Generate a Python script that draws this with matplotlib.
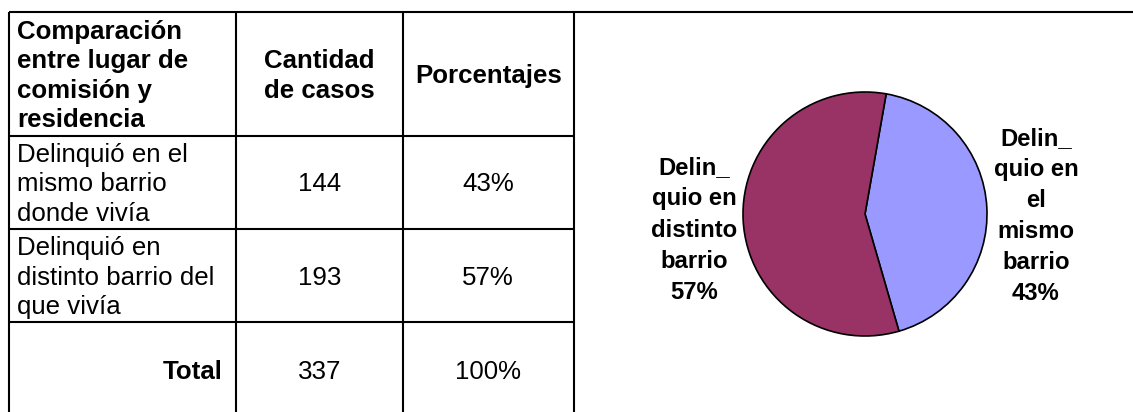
import matplotlib
matplotlib.use("Agg")
import matplotlib.pyplot as plt

# ---------------- data ----------------
header_labels = ["Comparación\nentre lugar de\ncomisión y\nresidencia",
                 "Cantidad\nde casos", "Porcentajes"]
row_labels = ["Delinquió en el\nmismo barrio\ndonde vivía",
              "Delinquió en\ndistinto barrio del\nque vivía"]
case_counts = [144, 193]
percentages = ["43%", "57%"]
total_label = "Total"
total_count = 337
total_pct = "100%"

pie_labels = ["Delin_\nquio en\nel\nmismo\nbarrio\n43%",
              "Delin_\nquio en\ndistinto\nbarrio\n57%"]
pie_values = [144, 193]
pie_colors = ["#9999FF", "#993366"]

# ---------------- figure ----------------
W, H = 1133, 412
fig = plt.figure(figsize=(W / 100, H / 100), dpi=100)
fig.patch.set_facecolor("white")
ax = fig.add_axes([0, 0, 1, 1])
ax.set_xlim(0, W)
ax.set_ylim(H, 0)
ax.axis("off")

FONT = "Liberation Sans"
TSIZE = 18.6
LW = 1.5

# table grid
x_cols = [9, 235.5, 403, 573.5]
y_rows = [12, 135.5, 229, 322, 418]
ax.plot([x_cols[0], W], [y_rows[0]] * 2, color="black", lw=LW, solid_capstyle="butt")
for y in y_rows[1:4]:
    ax.plot([x_cols[0], x_cols[-1]], [y, y], color="black", lw=LW, solid_capstyle="butt")
for x in x_cols:
    ax.plot([x, x], [y_rows[0], H], color="black", lw=LW, solid_capstyle="butt")


def draw_lines(x, yc, text, ha="left", weight="normal", size=TSIZE, spacing=29.5, cap=None):
    lines = text.split("\n")
    px = size / 72 * 100
    if cap is None:
        cap = 0.716 * px
    n = len(lines)
    first = yc - (n - 1) * spacing / 2 + cap / 2
    for i, line in enumerate(lines):
        ax.text(x, first + i * spacing, line, ha=ha, va="baseline",
                fontsize=size, fontweight=weight, family=FONT, color="black")


def col_center(i):
    return (x_cols[i] + x_cols[i + 1]) / 2


def row_center(j):
    return (y_rows[j] + y_rows[j + 1]) / 2


# header
draw_lines(17, row_center(0), header_labels[0], weight="bold")
draw_lines(col_center(1), row_center(0), header_labels[1], ha="center", weight="bold")
draw_lines(col_center(2), row_center(0), header_labels[2], ha="center", weight="bold")

# body rows
for j, (lab, cnt, pct) in enumerate(zip(row_labels, case_counts, percentages)):
    yc = row_center(j + 1)
    draw_lines(17, yc, lab)
    draw_lines(col_center(1), yc, str(cnt), ha="center")
    draw_lines(col_center(2), yc, pct, ha="center")

# total row
yc = 370
draw_lines(223, yc, total_label, ha="right", weight="bold")
draw_lines(col_center(1), yc, str(total_count), ha="center")
draw_lines(col_center(2), yc, total_pct, ha="center")

# ---------------- pie ----------------
cx, cy, r = 865, 214, 122
pax = fig.add_axes([(cx - r) / W, (H - cy - r) / H, 2 * r / W, 2 * r / H])
wedges, _ = pax.pie(pie_values, colors=pie_colors, startangle=80, counterclock=False,
                    radius=1, wedgeprops=dict(edgecolor="black", linewidth=1.2))
for w in wedges:
    w.set_clip_on(False)
pax.set_xlim(-1, 1)
pax.set_ylim(-1, 1)
pax.set_aspect("equal")
pax.axis("off")

PSIZE = 17.2
draw_lines(1036, 214, pie_labels[0], ha="center", weight="bold", size=PSIZE, spacing=31.1)
draw_lines(694.5, 228, pie_labels[1], ha="center", weight="bold", size=PSIZE, spacing=31.2)

fig.savefig("out.png", dpi=100, facecolor="white")
